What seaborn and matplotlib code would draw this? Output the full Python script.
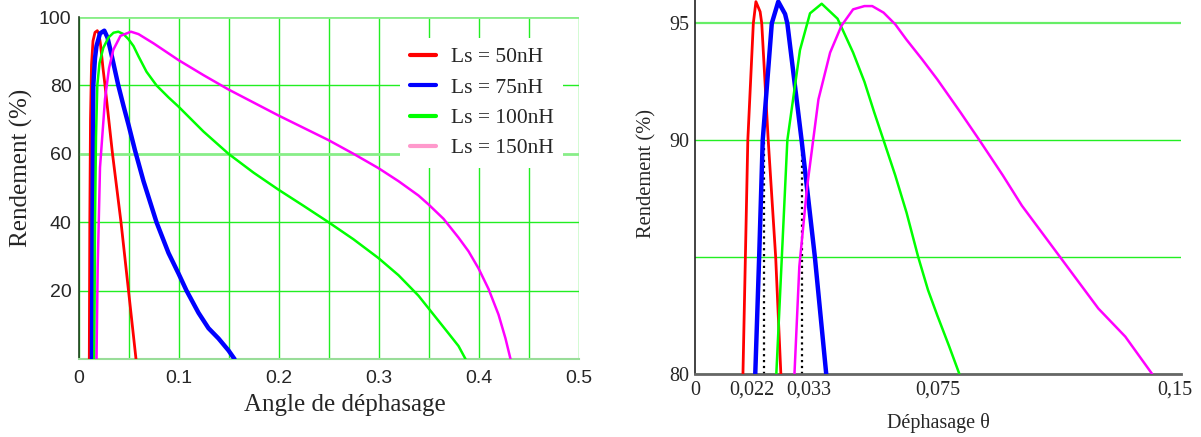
import numpy as np
import pandas as pd
import matplotlib
matplotlib.use('Agg')
import matplotlib.pyplot as plt
import matplotlib.transforms as mtransforms
from matplotlib.lines import Line2D
import seaborn as sns

# --- Data ---
# Left panel: efficiency (%) vs phase angle, full range
red_x = [0.0108, 0.0113, 0.012, 0.013, 0.0145, 0.0165, 0.0188, 0.0205, 0.022, 0.0245, 0.0265,
         0.034, 0.0425, 0.050, 0.0575]
red_y = [0, 40, 70, 86, 93, 95.5, 96, 95, 92, 85, 80,
         60, 40, 20, 0]

blue_x = [0.0135, 0.014, 0.0148, 0.0165, 0.018, 0.0215, 0.0258, 0.029, 0.033, 0.0398, 0.045, 0.05,
          0.0565, 0.065, 0.078, 0.09, 0.1, 0.108, 0.12, 0.13, 0.14, 0.15, 0.156]
blue_y = [0, 40, 80, 88, 91.5, 95.2, 96, 94, 89, 80, 74, 68.5,
          61, 52, 40, 31, 25, 20, 13.5, 9, 6, 2.5, 0]

green_x = [0.0158, 0.0165, 0.0175, 0.0188, 0.021, 0.0248, 0.03, 0.035, 0.0398, 0.045, 0.05, 0.055,
           0.06, 0.068, 0.078, 0.09, 0.1, 0.125, 0.15, 0.175, 0.2, 0.225, 0.25, 0.275, 0.3,
           0.32, 0.34, 0.355, 0.37, 0.38, 0.387]
green_y = [0, 40, 65, 80, 86.5, 91, 94, 95.4, 95.7, 95, 93.5, 91.5,
           88.5, 84, 80, 76.5, 73.8, 66.5, 60, 54.5, 49.5, 44.8, 40, 35, 29.5,
           24.5, 18.5, 13, 7.5, 3.8, 0]

mag_x = [0.018, 0.0192, 0.0215, 0.0265, 0.0305, 0.0348, 0.042, 0.0525, 0.06, 0.075, 0.1, 0.125,
         0.15, 0.175, 0.2, 0.225, 0.25, 0.275, 0.3, 0.32, 0.34, 0.35, 0.365, 0.38, 0.39, 0.4,
         0.41, 0.42, 0.427, 0.432]
mag_y = [0, 27, 56, 76, 85, 90.4, 94.5, 95.7, 95, 92.3, 87.4, 83,
         78.8, 75, 71.2, 67.6, 64, 60, 55.8, 52, 47.8, 45.2, 41, 35.5, 31.5, 26.5,
         20.5, 13, 6, 0]

legend_labels = ['Ls = 50nH', 'Ls = 75nH', 'Ls = 100nH', 'Ls = 150nH']

# Right panel: zoom on the 80-96 % band
r_red_x = [0.0148, 0.0163, 0.018, 0.0188, 0.0201, 0.0206, 0.0226, 0.0249, 0.0265]
r_red_y = [80, 90, 95, 95.93, 95.5, 95, 90, 85, 80]

r_blue_x = [0.0186, 0.0198, 0.0209, 0.0237, 0.0257, 0.0278, 0.0285, 0.0329, 0.037, 0.0405]
r_blue_y = [80, 85, 90, 95, 95.93, 95.4, 95, 90, 85, 80]

r_green_x = [0.0251, 0.0268, 0.0285, 0.0324, 0.0355, 0.0391, 0.044, 0.0488, 0.0523, 0.0553, 0.0582,
             0.0618, 0.0653, 0.0689, 0.0719, 0.0748, 0.0784, 0.0816]
r_green_y = [80, 85, 90, 93.86, 95.43, 95.84, 95.2, 93.75, 92.5, 91.2, 90,
             88.5, 86.9, 85, 83.6, 82.5, 81.2, 80]

r_mag_x = [0.0307, 0.0322, 0.0346, 0.0381, 0.0417, 0.0452, 0.0488, 0.0523, 0.0547, 0.0582, 0.0618,
           0.0653, 0.0701, 0.0748, 0.0819, 0.0878, 0.095, 0.1009, 0.1127, 0.1245, 0.1328, 0.1411]
r_mag_y = [80, 84.6, 88, 91.75, 93.75, 94.9, 95.6, 95.74, 95.74, 95.46, 94.96,
           94.3, 93.46, 92.6, 91.2, 90, 88.5, 87.2, 85, 82.8, 81.6, 80]

# where the 75nH curve crosses 90 %
cross_x = [0.0212, 0.033]
cross_top = 90

right_xticks = [0, 0.075, 0.15]
right_xticklabels = ['0', '0,075', '0,15']
right_minor_ticks = [0.022, 0.033]
right_minor_labels = ['0,022', '0,033']
right_yticks = [80, 85, 90, 95]
right_yticklabels = ['80', '', '90', '95']

# --- Style ---
sns.set_style('white')
plt.rcParams['font.family'] = ['Liberation Serif', 'DejaVu Serif']

colors = ['#ff0000', '#0000ff', '#00ff00', '#ff00ff']
widths = [2.0, 3.2, 1.8, 1.8]
grid_col = '#22ee22'

fig = plt.figure(figsize=(12.01, 4.37), dpi=100)
ax1 = fig.add_axes([78.5 / 1201, 78 / 437, 500 / 1201, 342 / 437])
ax2 = fig.add_axes([695 / 1201, 63 / 437, 486 / 1201, 374 / 437])

# ---------------- left panel ----------------
series = [(red_x, red_y), (blue_x, blue_y), (green_x, green_y), (mag_x, mag_y)]
for (xs, ys), c, w in zip(series, colors, widths):
    sns.lineplot(x=xs, y=ys, ax=ax1, color=c, linewidth=w, zorder=3)

ax1.set_xlim(0, 0.5)
ax1.set_ylim(0, 100)
ax1.set_xticks(np.arange(0, 0.51, 0.05))
ax1.set_xticklabels(['0', '', '0.1', '', '0.2', '', '0.3', '', '0.4', '', '0.5'])
ax1.set_yticks([0, 20, 40, 60, 80, 100])
ax1.set_yticklabels(['', '20', '40', '60', '80', '100'])
ax1.grid(True, color=grid_col, linewidth=1.0)
for gl, val in zip(ax1.get_ygridlines(), [0, 20, 40, 60, 80, 100]):
    if val in (60, 100):
        gl.set_color('#88ee88')
        gl.set_linewidth(2.0)
ax1.tick_params(axis='x', which='major', length=3, width=0.8, direction='out',
                labelsize=14, pad=5)
ax1.tick_params(axis='y', which='major', length=3, width=0.8, direction='out',
                labelsize=14, pad=2)
for lab in ax1.get_xticklabels() + ax1.get_yticklabels():
    lab.set_family(['Liberation Sans', 'DejaVu Sans'])
ax1.spines['top'].set_visible(False)
ax1.spines['right'].set_visible(False)
ax1.spines['left'].set_color('#1f3f1f')
ax1.spines['left'].set_linewidth(1.2)
ax1.spines['bottom'].set_color('#99dd99')
ax1.spines['bottom'].set_linewidth(1.5)
ax1.set_xlabel('Angle de déphasage', fontsize=18)
ax1.set_ylabel('Rendement (%)', fontsize=18)
ax1.xaxis.set_label_coords(0.533, -0.103)
ax1.yaxis.set_label_coords(-0.091, 0.558)

handles = [Line2D([0], [0], color=c, linewidth=3) for c in ['#ff0000', '#0000ff', '#00ff00', '#ff99cc']]
leg = ax1.legend(handles, legend_labels, loc='upper left', bbox_to_anchor=(0.643, 0.94),
                 bbox_transform=ax1.transAxes, fontsize=15.5, frameon=True, fancybox=False,
                 facecolor='white', edgecolor='none', framealpha=1, borderpad=0.45,
                 borderaxespad=0, handlelength=1.2, handletextpad=0.7, labelspacing=0.48)
leg.set_zorder(5)

# ---------------- right panel ----------------
r_series = [(r_red_x, r_red_y), (r_blue_x, r_blue_y), (r_green_x, r_green_y), (r_mag_x, r_mag_y)]
for (xs, ys), c, w in zip(r_series, colors, widths):
    sns.lineplot(x=xs, y=ys, ax=ax2, color=c, linewidth=w, zorder=3)

ax2.vlines(cross_x, 80, cross_top, colors='black', linestyles=':', linewidth=1.6, zorder=2)

ax2.set_xlim(0, 0.15)
ax2.set_ylim(80, 96)
ax2.set_xticks(right_xticks)
ax2.set_xticklabels(right_xticklabels)
ax2.set_xticks(right_minor_ticks, minor=True)
ax2.set_xticklabels(right_minor_labels, minor=True)
ax2.set_yticks(right_yticks)
ax2.set_yticklabels(right_yticklabels)
ax2.yaxis.grid(True, color=grid_col, linewidth=1.0)
ax2.xaxis.grid(False)
ax2.get_ygridlines()[3].set_color('#66ee66')
ax2.get_ygridlines()[3].set_linewidth(1.6)
ax2.tick_params(axis='x', which='major', length=4, direction='in', labelsize=14.5, pad=5)
ax2.tick_params(axis='x', which='minor', length=0, labelsize=14.5, pad=5)
ax2.tick_params(axis='y', length=3, direction='out', labelsize=14.5, pad=1)

# nudge the crossing labels and the clipped end label like in the original
for lab, dx in zip(ax2.get_xticklabels(minor=True), [-14, 7]):
    lab.set_transform(lab.get_transform() + mtransforms.ScaledTranslation(dx / 100, 0, fig.dpi_scale_trans))
end_lab = ax2.get_xticklabels()[-1]
end_lab.set_transform(end_lab.get_transform() + mtransforms.ScaledTranslation(-6 / 100, 0, fig.dpi_scale_trans))

ax2.spines['top'].set_visible(False)
ax2.spines['right'].set_visible(False)
ax2.spines['left'].set_color('#222222')
ax2.spines['left'].set_linewidth(1.2)
ax2.spines['bottom'].set_color('#666666')
ax2.spines['bottom'].set_linewidth(2.0)
ax2.set_xlabel('Déphasage θ', fontsize=14.5)
ax2.set_ylabel('Rendement (%)', fontsize=14.8)
ax2.xaxis.set_label_coords(0.5, -0.104)
ax2.yaxis.set_label_coords(-0.080, 0.537)

fig.savefig('out.png', dpi=100)
